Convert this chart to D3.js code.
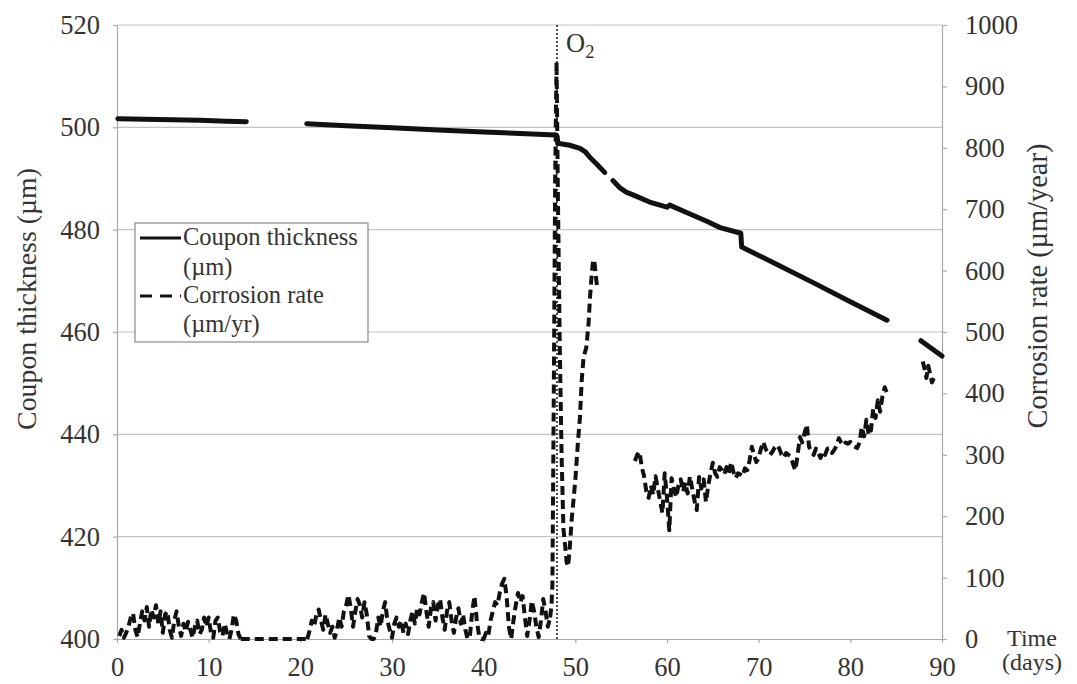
<!DOCTYPE html>
<html><head><meta charset="utf-8">
<script src="https://cdn.jsdelivr.net/npm/d3@7"></script>
<style>
html,body{margin:0;padding:0;background:#fff;}
svg{display:block;}
</style></head>
<body>
<svg id="chart" width="1077" height="684"></svg>
<script>
// ---------- DATA ----------
const xTicks = [0,10,20,30,40,50,60,70,80,90];
const leftTicks = [400,420,440,460,480,500,520];
const rightTicks = [0,100,200,300,400,500,600,700,800,900,1000];
const o2Day = 48;

// Coupon thickness (µm), segments of [day, value]
const thickSeg1 = [[0.1,501.7],[3,501.6],[6,501.5],[9,501.4],[12,501.2],[14.1,501.1]];
const thickSeg2 = [[20.7,500.7],[25,500.3],[30,499.9],[35,499.5],[40,499.1],[44,498.8],[47.8,498.5],
  [48.0,498.3],[48.1,496.9],[49.4,496.5],[50.5,495.9],[51.1,495.2],[51.6,494.1],[52.4,492.7],[53.2,491.2]];
const thickSeg3 = [[54.1,489.6],[54.9,488.1],[55.6,487.3],[56.3,486.8],[58.1,485.4],[60.0,484.4],[60.3,484.8],
  [62.2,483.3],[64.4,481.6],[65.8,480.4],[68.05,479.3],[68.15,476.6],[72,473.2],[76,469.6],[80,465.9],[84.0,462.3]];
const thickSeg4 = [[87.7,458.3],[90,455.3]];

// Corrosion rate (µm/yr): evenly sampled segments (start day, step in days, values)
const rateStep = 0.25;
const rateSeg1Start = 0.25;
const rateSeg1 = [5,15,2,10,20,35,42,15,3,25,45,30,52,20,48,35,55,25,45,10,40,45,15,2,30,45,20,5,25,12,28,15,2,20,30,8,15,35,20,35,10,2,30,35,12,5,25,10,0,15,40,30,8,0];
const rateZero = [[13.5,0],[20.75,0]];
const rateSeg2Start = 20.75;
const rateSeg2 = [0,13,30,20,40,48,30,15,40,25,10,20,2,15,35,20,45,55,72,50,20,45,65,55,35,60,40,5,0,0,10,35,20,45,60,30,15,2,25,35,20,30,10,25,8,30,45,25,50,40,60,75,45,20,50,60,30,55,65,35,15,45,60,30,10,35,50,25,40,15,0,5,45,70,30,5,0,0,10,5,30,45,60,55,75,90,98,70,20,0,30,55,75,60,70,35,5,30,62,45,20,3,30,65,45,20,35];
const rateSpike = [[47.25,35],[47.4,55],[47.5,90],[47.65,400],[47.8,750],[47.95,940],[48.1,720],[48.3,480],[48.5,300],[48.7,180],
  [48.9,150],[49.05,125],[49.2,118],[49.35,140],[49.6,194],[50.0,259],[50.3,324],[50.5,360],[50.7,422],[50.9,459],
  [51.2,475],[51.45,515],[51.6,557],[51.8,596],[51.95,618],[52.1,612],[52.25,590],[52.4,570]];
const rateSeg3Start = 56.5;
const rateSeg3 = [290,300,305,280,265,240,230,250,235,265,245,225,205,270,230,177,262,245,231,250,260,240,255,237,265,245,225,210,264,245,260,223,250,270,287,270,264,280,275,268,280,270,288,272,262,270,268,265,278,275,290,313,300,288,295,310,321,310,303,300,305,312,316,310,300,295,303,300,297,285,275,300,329,320,335,349,313,305,300,310,303,295,305,300,310,311,303,308,315,327,320,315,320,318,321,315,313,311,320,345,330,357,332,340,375,360,389,370,395,410,400];
const rateSeg4 = [[87.9,452],[88.1,440],[88.3,425],[88.5,445],[88.7,432],[88.9,418],[89.1,425]];

// legend / labels
const legendItems = [
  {lines:["Coupon thickness","(µm)"], dash:null},
  {lines:["Corrosion rate","(µm/yr)"], dash:"12,8"}
];
const leftTitle = "Coupon thickness (µm)";
const rightTitle = "Corrosion rate (µm/year)";
const xTitle = ["Time","(days)"];

// ---------- DRAW ----------
const FONT = '"Liberation Serif", "DejaVu Serif", "Noto Serif", serif';
const svg = d3.select("#chart");
const X0=117, X1=942, Y0=639, Y1=25;
const x = d3.scaleLinear().domain([0,90]).range([X0,X1]);
const yL = d3.scaleLinear().domain([400,520]).range([Y0,Y1]);
const yR = d3.scaleLinear().domain([0,1000]).range([Y0,Y1]);

function txt(parent){ return parent.append("text").style("font-family",FONT).attr("fill","#333"); }
// font size fitting: measure a sample string, scale size so it matches the reference width
function fitSize(str, base, targetW){
  const t = txt(svg).attr("font-size",base).text(str);
  const w = t.node().getComputedTextLength();
  t.remove();
  return base*targetW/w;
}
const tickFS = fitSize("1000",26,53);
const legendFS = fitSize("Coupon thickness",26,175);
const leftTitleFS = fitSize(leftTitle,28,262);
const rightTitleFS = fitSize(rightTitle,28,285);
const timeFS = fitSize("(days)",26,60);

const gridColor="#c4c4c4", axisColor="#a8a8a8";

// gridlines
svg.append("g").selectAll("line").data(leftTicks.filter(d=>d>400)).join("line")
  .attr("x1",X0).attr("x2",X1).attr("y1",d=>yL(d)).attr("y2",d=>yL(d))
  .attr("stroke",gridColor).attr("stroke-width",1.2);

function styleAxis(g){
  g.attr("font-family",null).attr("font-size",null);
  g.selectAll(".domain").attr("stroke",axisColor).attr("stroke-width",1.2);
  g.selectAll(".tick line").attr("stroke",axisColor).attr("stroke-width",1.2);
  g.selectAll(".tick text").style("font-family",FONT).attr("font-size",tickFS).attr("fill","#333");
}
// left axis
svg.append("g").attr("transform",`translate(${X0},0)`)
  .call(d3.axisLeft(yL).tickValues(leftTicks).tickSize(4).tickPadding(13).tickSizeOuter(0))
  .call(styleAxis);
// right axis
svg.append("g").attr("transform",`translate(${X1},0)`)
  .call(d3.axisRight(yR).tickValues(rightTicks).tickSize(5).tickPadding(18).tickSizeOuter(0).tickFormat(d3.format("d")))
  .call(styleAxis);
// bottom axis
svg.append("g").attr("transform",`translate(0,${Y0})`)
  .call(d3.axisBottom(x).tickValues(xTicks).tickSize(4).tickPadding(14).tickSizeOuter(0))
  .call(styleAxis);

// O2 dotted line
svg.append("line").attr("x1",x(o2Day)).attr("x2",x(o2Day)).attr("y1",Y1).attr("y2",Y0)
  .attr("stroke","#222").attr("stroke-width",1.6).attr("stroke-dasharray","2,2");
const o2 = txt(svg).attr("x",x(o2Day)+9).attr("y",52).attr("font-size",tickFS);
o2.append("tspan").text("O");
o2.append("tspan").attr("font-size",tickFS*0.7).attr("dy",6).text("2");

// thickness line
const lineL = d3.line().x(d=>x(d[0])).y(d=>yL(d[1]));
[thickSeg1,thickSeg2,thickSeg3,thickSeg4].forEach(seg=>{
  svg.append("path").attr("d",lineL(seg)).attr("fill","none")
    .attr("stroke","#111").attr("stroke-width",5).attr("stroke-linejoin","round").attr("stroke-linecap","round");
});

// rate line
const lineR = d3.line().x(d=>x(d[0])).y(d=>yR(d[1]));
function even(start, vals){ return vals.map((v,i)=>[start+i*rateStep, v]); }
[even(rateSeg1Start,rateSeg1), rateZero, even(rateSeg2Start,rateSeg2), rateSpike, even(rateSeg3Start,rateSeg3), rateSeg4].forEach(seg=>{
  svg.append("path").attr("d",lineR(seg)).attr("fill","none")
    .attr("stroke","#111").attr("stroke-width",4).attr("stroke-dasharray","9,5").attr("stroke-linejoin","round");
});

// axis titles
txt(svg).attr("transform","translate(26,299) rotate(-90)").attr("text-anchor","middle")
  .attr("dominant-baseline","central").attr("font-size",leftTitleFS).text(leftTitle);
txt(svg).attr("transform","translate(1037,286) rotate(-90)").attr("text-anchor","middle")
  .attr("dominant-baseline","central").attr("font-size",rightTitleFS).text(rightTitle);
txt(svg).attr("x",1032).attr("y",646).attr("text-anchor","middle").attr("font-size",timeFS).text(xTitle[0]);
txt(svg).attr("x",1032).attr("y",670).attr("text-anchor","middle").attr("font-size",timeFS).text(xTitle[1]);

// legend
const lg = svg.append("g");
lg.append("rect").attr("x",135).attr("y",223).attr("width",233).attr("height",119)
  .attr("fill","#fff").attr("stroke","#8a8a8a").attr("stroke-width",1.2);
const baselines=[[245,275],[303,332]];
legendItems.forEach((it,i)=>{
  const ly = baselines[i][0]-7;
  lg.append("line").attr("x1",140).attr("x2",181).attr("y1",ly).attr("y2",ly)
    .attr("stroke","#111").attr("stroke-width",3).attr("stroke-dasharray",it.dash);
  it.lines.forEach((t,j)=>{
    txt(lg).attr("x",183).attr("y",baselines[i][j]).attr("font-size",legendFS).text(t);
  });
});
</script>
</body></html>
